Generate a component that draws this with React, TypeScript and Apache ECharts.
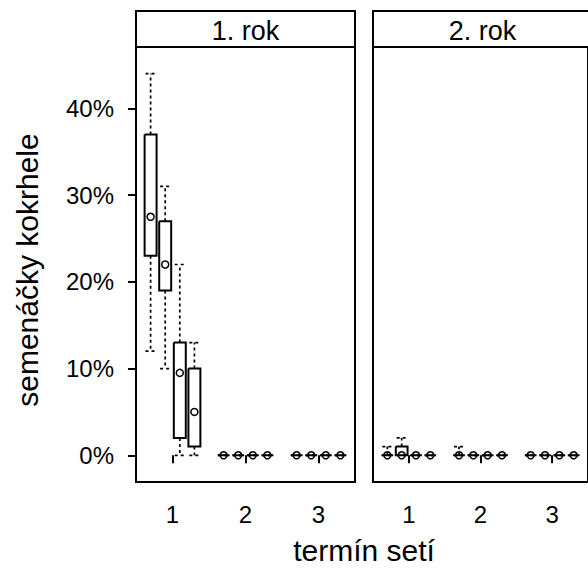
import React, { useEffect, useRef } from "react";
import * as echarts from "echarts";

// ---- data (values in %) ----
const categories = ["1", "2", "3"];
const panels = ["1. rok", "2. rok"];
const yTicks = [0, 10, 20, 30, 40];
const groupsPerCategory = 4;

// 3 categories x 4 groups, flattened (category-major)
const rok1Min = [12, 10, 0, 0, 0, 0, 0, 0, 0, 0, 0, 0];
const rok1Q1 = [23, 19, 2, 1, 0, 0, 0, 0, 0, 0, 0, 0];
const rok1Median = [27.5, 22, 9.5, 5, 0, 0, 0, 0, 0, 0, 0, 0];
const rok1Q3 = [37, 27, 13, 10, 0, 0, 0, 0, 0, 0, 0, 0];
const rok1Max = [44, 31, 22, 13, 0, 0, 0, 0, 0, 0, 0, 0];

const rok2Min = [0, 0, 0, 0, 0, 0, 0, 0, 0, 0, 0, 0];
const rok2Q1 = [0, 0, 0, 0, 0, 0, 0, 0, 0, 0, 0, 0];
const rok2Median = [0, 0, 0, 0, 0, 0, 0, 0, 0, 0, 0, 0];
const rok2Q3 = [0, 1, 0, 0, 0, 0, 0, 0, 0, 0, 0, 0];
const rok2Max = [1, 2, 0, 0, 1, 0, 0, 0, 0, 0, 0, 0];

const FONT = "'Liberation Sans', Arial, sans-serif";

function buildData(mn: number[], q1: number[], med: number[], q3: number[], mx: number[]) {
  return mn.map((_, i) => [
    Math.floor(i / groupsPerCategory),
    i % groupsPerCategory,
    mn[i],
    q1[i],
    med[i],
    q3[i],
    mx[i],
  ]);
}

function renderItem(params: any, api: any) {
  const cat = api.value(0);
  const slot = api.value(1);
  const band = api.size([1, 0])[0];
  const cx = api.coord([cat, 0])[0] + (slot - 1.5) * band * 0.2;
  const hw = band * 0.082;
  const y = (k: number) => api.coord([cat, api.value(k)])[1];
  const yMin = y(2), yQ1 = y(3), yMed = y(4), yQ3 = y(5), yMax = y(6);
  const dash = { stroke: "#000", lineWidth: 1.7, lineDash: [3, 3], fill: "none" };
  const capHw = hw * 0.85;
  const children: any[] = [];
  if (Math.abs(yMax - yQ3) > 0.5) {
    children.push({ type: "line", shape: { x1: cx, y1: yQ3, x2: cx, y2: yMax }, style: dash });
  }
  if (Math.abs(yMin - yQ1) > 0.5) {
    children.push({ type: "line", shape: { x1: cx, y1: yQ1, x2: cx, y2: yMin }, style: dash });
  }
  children.push({ type: "line", shape: { x1: cx - capHw, y1: yMax, x2: cx + capHw, y2: yMax }, style: dash });
  children.push({ type: "line", shape: { x1: cx - capHw, y1: yMin, x2: cx + capHw, y2: yMin }, style: dash });
  children.push({
    type: "polyline",
    shape: {
      points: [
        [cx - hw, yQ3],
        [cx + hw, yQ3],
        [cx + hw, yQ1],
        [cx - hw, yQ1],
        [cx - hw, yQ3],
      ],
    },
    style: { stroke: "#000", lineWidth: 2, fill: "none" },
  });
  children.push({
    type: "circle",
    shape: { cx, cy: yMed, r: 3.5 },
    style: { stroke: "#000", lineWidth: 1.5, fill: "none" },
  });
  return { type: "group", children };
}

export default function App() {
  const ref = useRef<HTMLDivElement>(null);
  useEffect(() => {
    if (!ref.current) return;
    const chart = echarts.init(ref.current, undefined, { renderer: "svg" });
    const gridLefts = [136, 373];
    const gridW = 219;
    const grids = gridLefts.map((l) => ({
      left: l,
      top: 47,
      width: gridW,
      height: 435,
      show: true,
      borderColor: "#000",
      borderWidth: 2,
      backgroundColor: "transparent",
    }));
    const xAxes = gridLefts.map((_, i) => ({
      gridIndex: i,
      type: "category",
      data: categories,
      boundaryGap: true,
      axisLine: { show: false },
      axisTick: { show: true, alignWithLabel: true, length: 8, lineStyle: { color: "#000", width: 2 } },
      axisLabel: { fontSize: 24, color: "#000", margin: 20, fontFamily: FONT },
      splitLine: { show: false },
    }));
    const yAxes = gridLefts.map((_, i) => ({
      gridIndex: i,
      type: "value",
      min: -3.08,
      max: 47.08,
      axisLine: { show: false },
      axisTick: {
        show: i === 0,
        length: 8,
        customValues: yTicks,
        lineStyle: { color: "#000", width: 2 },
      },
      axisLabel: {
        show: i === 0,
        customValues: yTicks,
        formatter: (v: number) => `${v}%`,
        fontSize: 24,
        color: "#000",
        margin: 22,
        fontFamily: FONT,
      },
      splitLine: { show: false },
    }));
    const datasets = [
      buildData(rok1Min, rok1Q1, rok1Median, rok1Q3, rok1Max),
      buildData(rok2Min, rok2Q1, rok2Median, rok2Q3, rok2Max),
    ];
    const series = datasets.map((d, i) => ({
      type: "custom",
      name: panels[i],
      xAxisIndex: i,
      yAxisIndex: i,
      renderItem,
      encode: { x: 0, y: [2, 3, 4, 5, 6] },
      data: d,
      clip: false,
    }));
    const graphic: any[] = [];
    gridLefts.forEach((l, i) => {
      graphic.push({
        type: "rect",
        shape: { x: l, y: 11, width: gridW, height: 36 },
        style: { fill: "#fff", stroke: "#000", lineWidth: 2 },
      });
      graphic.push({
        type: "text",
        x: l + gridW / 2,
        y: 30.6,
        style: {
          text: panels[i],
          fontSize: 27,
          fontFamily: FONT,
          fill: "#000",
          align: "center",
          verticalAlign: "middle",
        },
      });
    });
    graphic.push({
      type: "text",
      x: 27,
      y: 270,
      rotation: Math.PI / 2,
      style: {
        text: "semenáčky kokrhele",
        fontSize: 30,
        fontFamily: FONT,
        fill: "#000",
        align: "center",
        verticalAlign: "middle",
      },
    });
    graphic.push({
      type: "text",
      x: 364,
      y: 550,
      style: {
        text: "termín setí",
        fontSize: 30,
        fontFamily: FONT,
        fill: "#000",
        align: "center",
        verticalAlign: "middle",
      },
    });
    chart.setOption({
      animation: false,
      backgroundColor: "#fff",
      grid: grids,
      xAxis: xAxes,
      yAxis: yAxes,
      series,
      graphic,
    });
    return () => chart.dispose();
  }, []);
  return (
    <div
      ref={ref}
      style={{ position: "absolute", left: 0, top: 0, width: 588, height: 579 }}
    />
  );
}
